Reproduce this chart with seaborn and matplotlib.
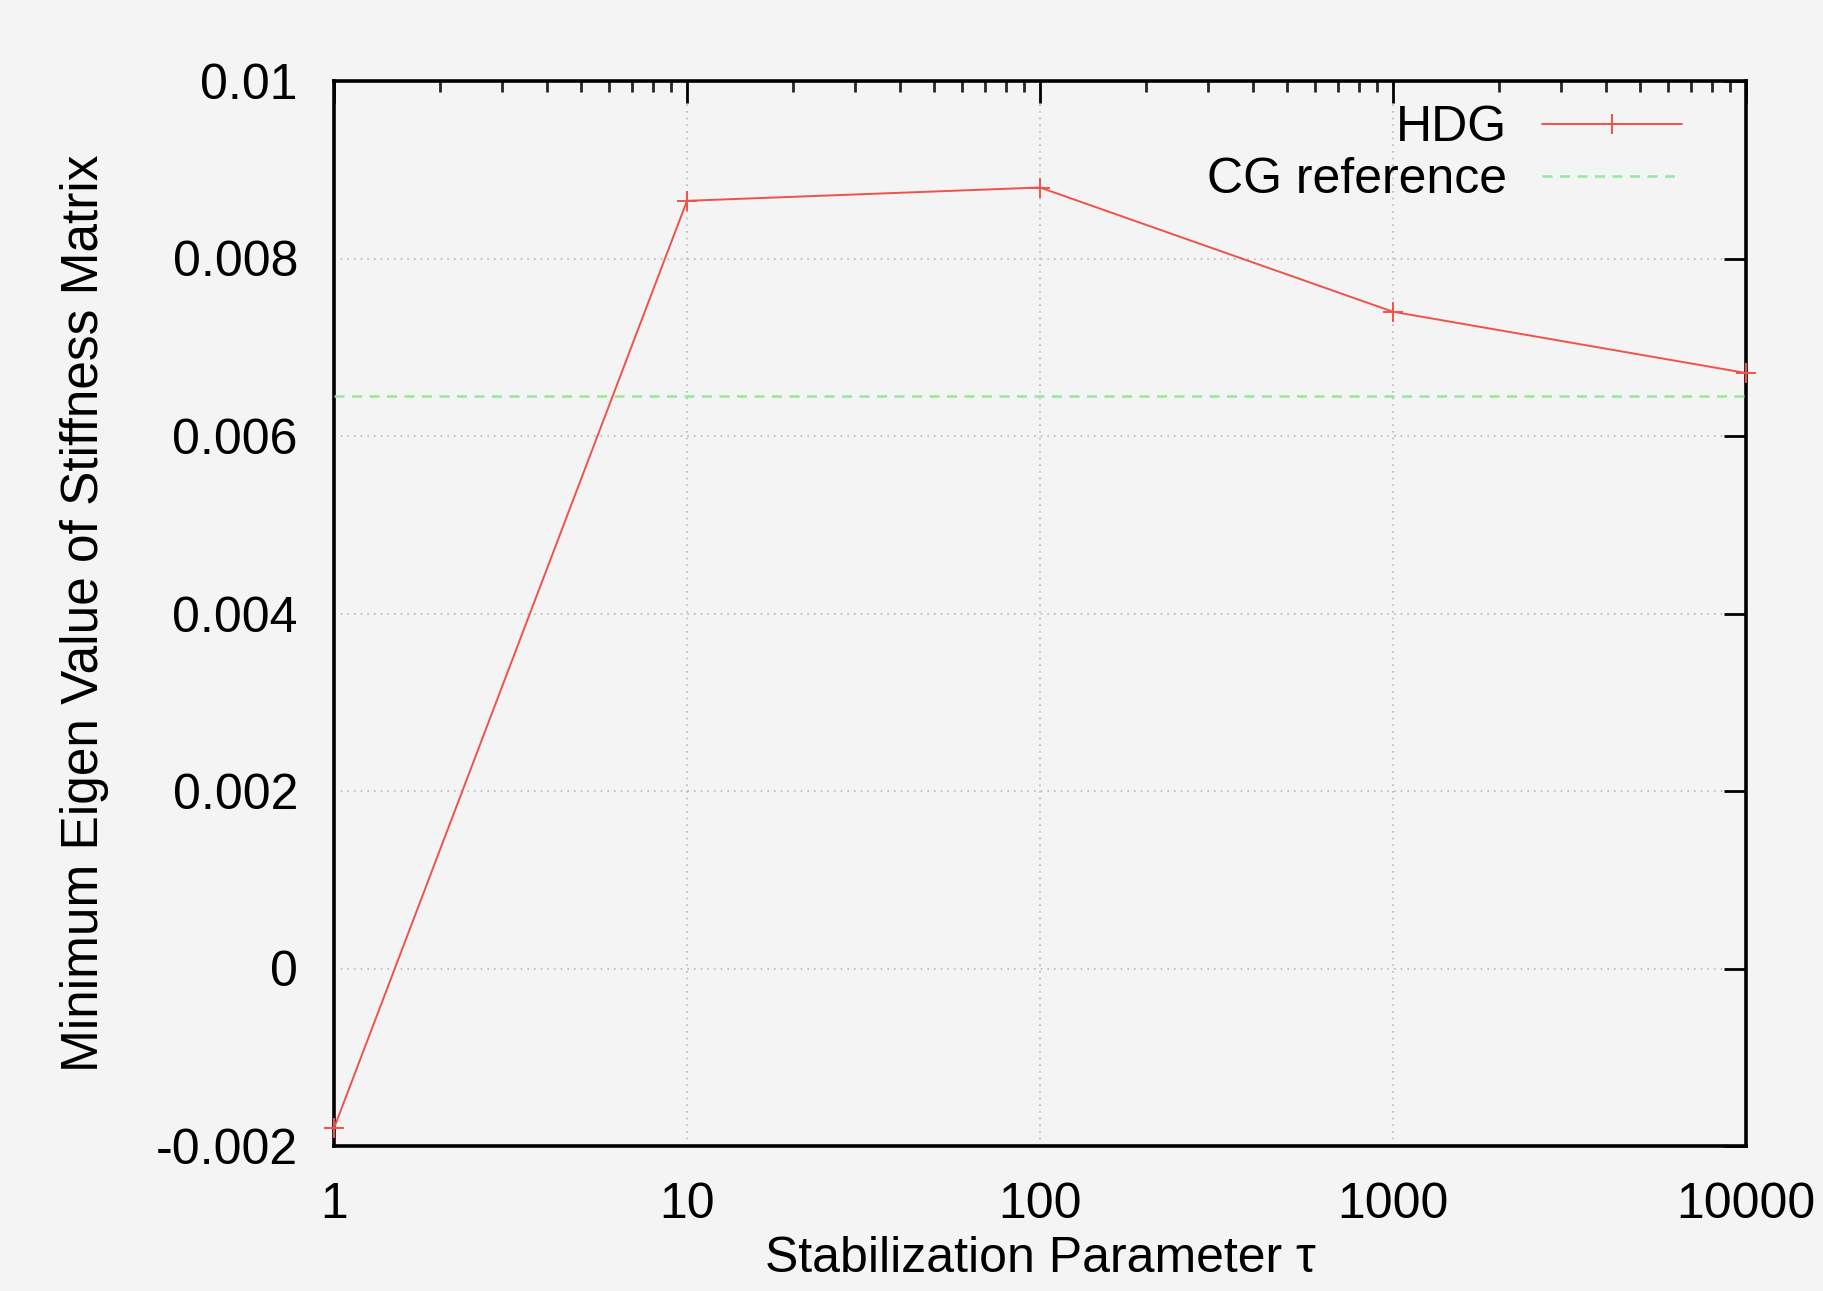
import matplotlib
matplotlib.use("Agg")
import matplotlib.pyplot as plt
import seaborn as sns
import numpy as np
import pandas as pd
from matplotlib.ticker import LogLocator, FixedLocator, NullFormatter

tau = [1, 10, 100, 1000, 10000]
hdg = [-0.0018, 0.00865, 0.0088, 0.0074, 0.00671]
cg_reference = 0.00645
yticks = [-0.002, 0, 0.002, 0.004, 0.006, 0.008, 0.01]
ytick_labels = ["-0.002", "0", "0.002", "0.004", "0.006", "0.008", "0.01"]
xticks = [1, 10, 100, 1000, 10000]
xtick_labels = ["1", "10", "100", "1000", "10000"]

sns.set_style("white")
plt.rcParams['font.family'] = ['Liberation Sans', 'DejaVu Sans']
plt.rcParams['text.color'] = 'black'
plt.rcParams['axes.labelcolor'] = 'black'

bg = "#f4f4f4"
red = "#f0524a"
fig = plt.figure(figsize=(18.23, 12.91), dpi=100, facecolor=bg)
ax = fig.add_axes([334/1823, 1 - 1146/1291, (1746-334)/1823, (1146-81)/1291])
ax.set_facecolor(bg)

df = pd.DataFrame({"tau": tau, "hdg": hdg})
sns.lineplot(data=df, x="tau", y="hdg", ax=ax, color=red, linewidth=1.4,
             marker="+", markersize=14, markeredgewidth=1.4, markeredgecolor=red,
             markerfacecolor=red, label="HDG", clip_on=False, zorder=5)
ax.axhline(cg_reference, color="#98e898", linestyle=(0, (4, 3)), linewidth=1.8,
           label="CG reference", zorder=4)

ax.set_xscale("log")
ax.set_xlim(1, 10000)
ax.set_ylim(-0.002, 0.01)
ax.xaxis.set_major_locator(FixedLocator(xticks))
ax.set_xticklabels(xtick_labels)
ax.xaxis.set_minor_locator(LogLocator(base=10, subs=np.arange(2, 10)))
ax.xaxis.set_minor_formatter(NullFormatter())
ax.set_yticks(yticks)
ax.set_yticklabels(ytick_labels)

ax.grid(True, which="major", color="#b8b8b8", linestyle=(0, (1, 3)), linewidth=1.2)
ax.tick_params(which="major", direction="in", length=16, width=2, top=True, right=True,
               labelsize=36, pad=26, colors="black")
ax.tick_params(which="minor", direction="in", length=8, width=2, top=True, right=True)
for s in ax.spines.values():
    s.set_linewidth(2.6)
    s.set_color("black")

ax.set_xlabel("Stabilization Parameter τ", fontsize=36, labelpad=6, color="black")
ax.set_ylabel("Minimum Eigen Value of Stiffness Matrix", fontsize=37, labelpad=34,
              color="black")

leg = ax.legend(loc="upper right", frameon=False, markerfirst=False, fontsize=36,
                handlelength=2.8, handletextpad=0.7, borderaxespad=0, borderpad=0,
                labelspacing=0.12, bbox_to_anchor=(0.955, 0.977))
for t in leg.get_texts():
    t.set_color("black")

fig.savefig("out.png", dpi=100, facecolor=bg)
